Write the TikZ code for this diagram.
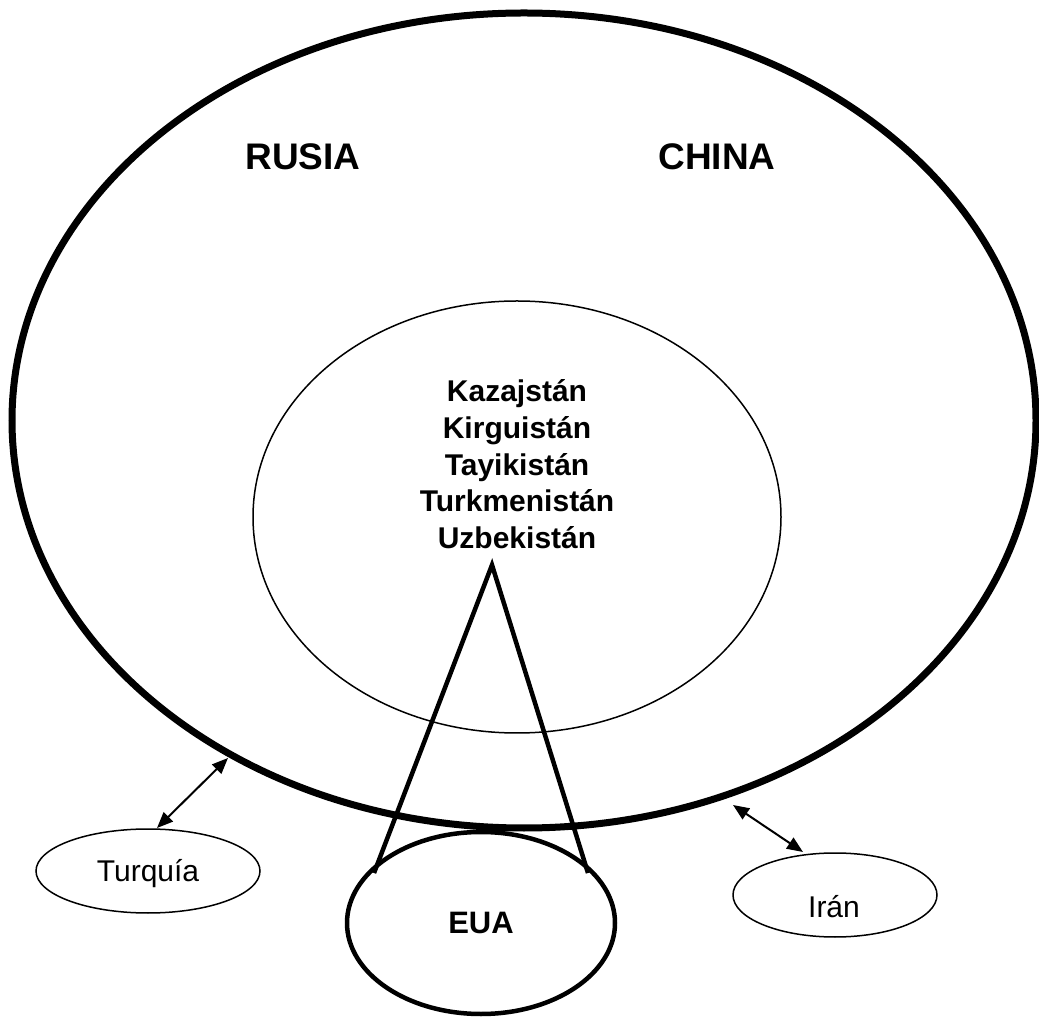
\documentclass[tikz,border=0pt]{standalone}
\usepackage{fontspec}
\setmainfont{Liberation Sans}
\usetikzlibrary{shapes.geometric,arrows.meta}
\begin{document}
\begin{tikzpicture}[x=1pt,y=1pt,
  oval/.style={ellipse, draw, inner sep=0pt},
  bigtext/.style={font=\fontsize{37}{44}\selectfont\bfseries},
  listtext/.style={font=\fontsize{30}{36}\selectfont\bfseries, anchor=base},
  smalltext/.style={font=\fontsize{30}{36}\selectfont},
  link/.style={line width=2pt, {Triangle[length=16pt,width=13pt]}-{Triangle[length=16pt,width=13pt]}},
  leg/.style={line width=4.5pt}]
\useasboundingbox (0,0) rectangle (1039,1021);
% main ellipse
\node[oval, line width=7pt, minimum width=1024pt, minimum height=815pt] (world) at (524,600.5) {};
% inner ellipse
\node[oval, line width=1.5pt, minimum width=528pt, minimum height=432pt] (asia) at (517,504) {};
% EUA
\node[oval, line width=4.5pt, minimum width=268pt, minimum height=182pt] (eua) at (481,98) {};
% Turquia, Iran
\node[oval, line width=1.5pt, minimum width=224pt, minimum height=84pt] (turq) at (148,150) {};
\node[oval, line width=1.5pt, minimum width=204pt, minimum height=84pt] (iran) at (835,126) {};

\node[bigtext] (rusia) at (303,864) {RUSIA};
\node[bigtext] (china) at (717,864) {CHINA};

\node[listtext] (l1) at (517,619) {Kazajstán};
\node[listtext] (l2) at (517,582) {Kirguistán};
\node[listtext] (l3) at (517,545) {Tayikistán};
\node[listtext] (l4) at (517,509) {Turkmenistán};
\node[listtext] (l5) at (517,472) {Uzbekistán};

\node[font=\fontsize{31}{37}\selectfont\bfseries, anchor=base] (euat) at (481,88) {EUA};
\node[smalltext] (turqt) at (148,147) {Turquía};
\node[smalltext] (irant) at (834,114) {Irán};

% cone from the inner ellipse to EUA
\coordinate (apex) at (492,456);
\coordinate (footl) at (374,148);
\coordinate (footr) at (588,148);
\draw[leg, line join=miter] (footl) -- (apex) -- (footr);

% arrows
\coordinate (wt) at (228,263);
\coordinate (tt) at (157,193);
\coordinate (wi) at (733,216);
\coordinate (ii) at (803,169);
\draw[link] (wt) -- (tt);
\draw[link] (wi) -- (ii);
\end{tikzpicture}
\end{document}
